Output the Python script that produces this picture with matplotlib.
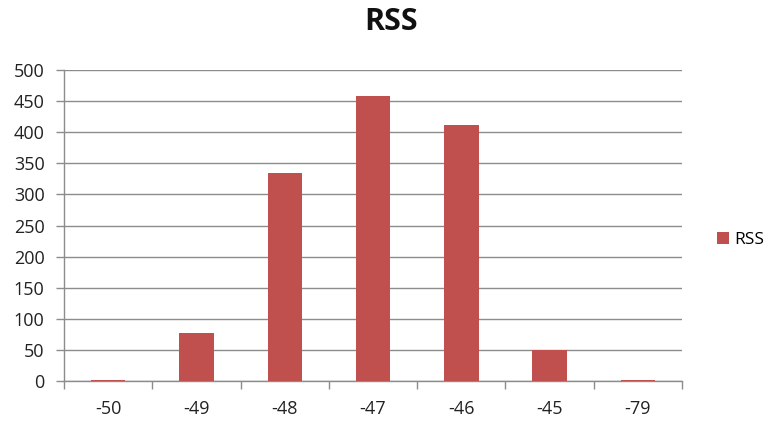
import matplotlib
matplotlib.use("Agg")
import matplotlib.pyplot as plt
from matplotlib.patches import Patch

categories = ["-50", "-49", "-48", "-47", "-46", "-45", "-79"]
rss_counts = [2, 77, 335, 458, 411, 50, 2]
y_ticks = [0, 50, 100, 150, 200, 250, 300, 350, 400, 450, 500]

bar_color = "#C0504D"
grid_color = "#8C8C8C"
font = ["Open Sans", "DejaVu Sans"]

fig = plt.figure(figsize=(7.75, 4.26), dpi=100)
ax = fig.add_axes([0.0826, 0.1056, 0.7974, 0.7301])

x = list(range(len(categories)))
ax.bar(x, rss_counts, width=0.39, color=bar_color, zorder=3)

ax.set_xlim(-0.5, len(categories) - 0.5)
ax.set_ylim(0, 500)
ax.set_yticks(y_ticks)
ax.set_yticklabels([str(v) for v in y_ticks], fontsize=13, family=font, color="#222222")
ax.yaxis.grid(True, color=grid_color, linewidth=1.0, zorder=0)

# category labels centred on bars, tick marks at category boundaries
ax.set_xticks(x)
ax.set_xticklabels(categories, fontsize=13, family=font, color="#222222")
ax.tick_params(axis="x", length=0, pad=14)
ax.set_xticks([i - 0.5 for i in range(len(categories) + 1)], minor=True)
ax.tick_params(axis="x", which="minor", length=6, color=grid_color, width=1.0)
ax.tick_params(axis="y", length=6, color=grid_color, width=1.0, pad=8)

for side in ["top", "right"]:
    ax.spines[side].set_visible(False)
for side in ["left", "bottom"]:
    ax.spines[side].set_color(grid_color)
    ax.spines[side].set_linewidth(1.0)

fig.text(0.505, 0.948, "RSS", ha="center", va="center", fontsize=22,
         fontweight="bold", family=font, color="#111111")

handle = Patch(facecolor=bar_color, edgecolor="none")
fig.legend([handle], ["RSS"], loc="center left", bbox_to_anchor=(0.905, 0.437),
           frameon=False, prop={"family": font, "size": 12.5},
           handlelength=0.7, handleheight=0.7, handletextpad=0.3)

fig.savefig("out.png", dpi=100, facecolor="white")
